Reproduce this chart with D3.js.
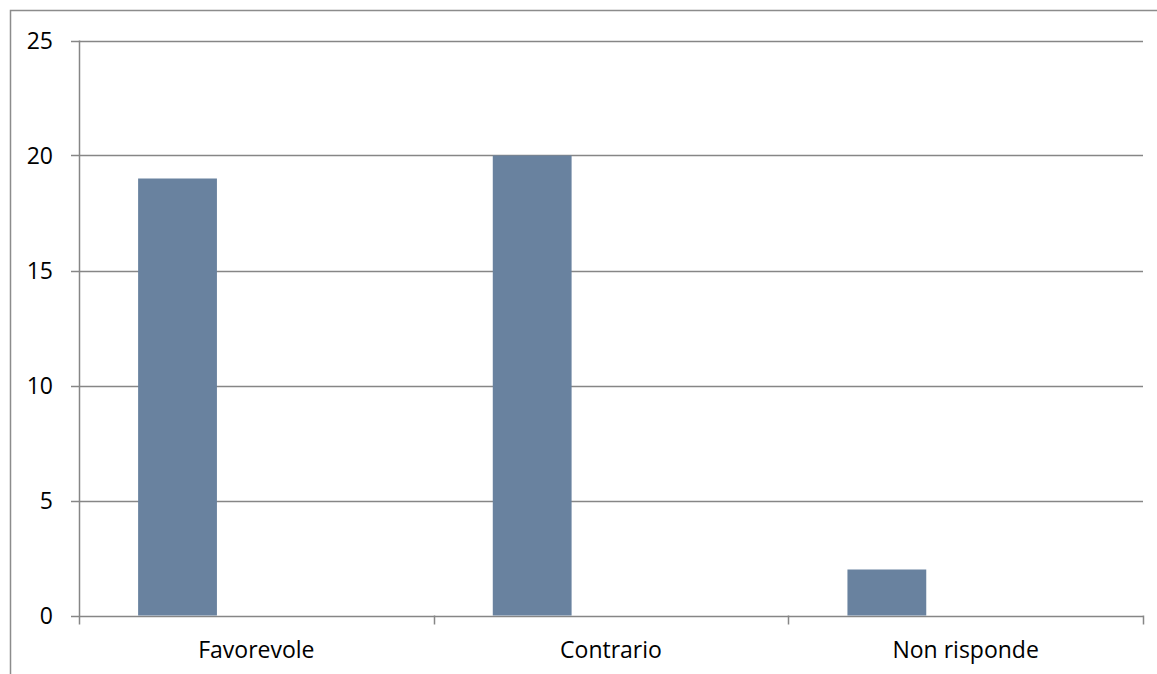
<!DOCTYPE html>
<html>
<head>
<meta charset="utf-8">
<script src="https://cdn.jsdelivr.net/npm/d3@7"></script>
<style>
html,body{margin:0;padding:0;background:#fff;}
svg{display:block;}
text{font-family:"Open Sans",sans-serif;fill:#000;}
</style>
</head>
<body>
<svg id="chart" width="1157" height="674"></svg>
<script>
const categories = ["Favorevole", "Contrario", "Non risponde"];
const values = [19, 20, 2];
const seriesSlots = ["Serie1", "Serie2", "Serie3"]; // bar occupies first slot of each category
const yTicks = [0, 5, 10, 15, 20, 25];

(function () {
const svg = d3.select("#chart");
const W = 1157, H = 674;
const mLeft = 79, mRight = 1143, mTop = 40.5, mBottom = 615.5;

// outer frame
svg.append("path")
  .attr("d", `M10.5,${H} V10.5 H${W}`)
  .attr("fill", "none").attr("stroke", "#8c8c8c").attr("stroke-width", 1.5);

const x0 = d3.scaleBand().domain(categories).range([mLeft, mRight]).padding(0);
const x1 = d3.scaleBand().domain(seriesSlots).range([0, x0.bandwidth()]).paddingInner(0).paddingOuter(0.75);
const y = d3.scaleLinear().domain([0, 25]).range([mBottom, mTop]);

// gridlines
svg.append("g").selectAll("line").data(yTicks).join("line")
  .attr("x1", mLeft - 8).attr("x2", mRight)
  .attr("y1", d => Math.round(y(d)) + 0.5).attr("y2", d => Math.round(y(d)) + 0.5)
  .attr("stroke", "#868686").attr("stroke-width", 1.5);

// bars
svg.append("g").selectAll("rect").data(categories).join("rect")
  .attr("x", (c) => x0(c) + x1(seriesSlots[0]))
  .attr("width", x1.bandwidth())
  .attr("y", (c, i) => y(values[i]))
  .attr("height", (c, i) => y(0) - y(values[i]))
  .attr("fill", "#69829f");

// y axis line
svg.append("line")
  .attr("x1", mLeft + 0.5).attr("x2", mLeft + 0.5)
  .attr("y1", mTop).attr("y2", mBottom + 9)
  .attr("stroke", "#868686").attr("stroke-width", 1.5);

// x ticks at category boundaries
const bounds = categories.map(c => x0(c)).concat([mRight]);
svg.append("g").selectAll("line").data(bounds.slice(1)).join("line")
  .attr("x1", d => Math.round(d) + 0.5).attr("x2", d => Math.round(d) + 0.5)
  .attr("y1", mBottom).attr("y2", mBottom + 9)
  .attr("stroke", "#868686").attr("stroke-width", 1.5);

// y labels
svg.append("g").selectAll("text").data(yTicks).join("text")
  .attr("x", 53).attr("y", d => y(d))
  .attr("dy", "0.36em")
  .attr("text-anchor", "end")
  .attr("font-size", 23)
  .text(d => d);

// x labels
svg.append("g").selectAll("text").data(categories).join("text")
  .attr("x", c => x0(c) + x0.bandwidth() / 2)
  .attr("y", 658)
  .attr("text-anchor", "middle")
  .attr("font-size", 23)
  .text(c => c);
})();
</script>
</body>
</html>
